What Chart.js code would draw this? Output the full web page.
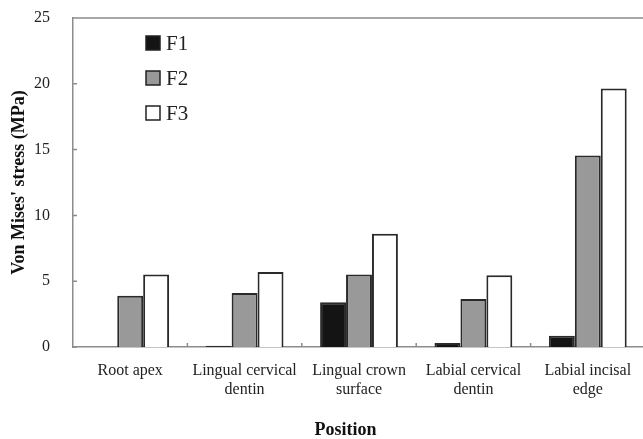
<!DOCTYPE html>
<html>
<head>
<meta charset="utf-8">
<script src="https://cdn.jsdelivr.net/npm/chart.js@4.4.1/dist/chart.umd.min.js"></script>
<style>
  html, body { margin: 0; padding: 0; background: #fff; overflow: hidden; }
  #wrap { position: relative; width: 645px; height: 439px; }
</style>
</head>
<body>
<div id="wrap"><canvas id="stressChart"></canvas></div>
<script>
// positions along the tooth
const positions = [
    'Root apex',
    ['Lingual cervical', 'dentin'],
    ['Lingual crown', 'surface'],
    ['Labial cervical', 'dentin'],
    ['Labial incisal', 'edge']
];
// von Mises stress (MPa) per loading case
const f1 = [0, 0.1, 3.4, 0.3, 0.85];
const f2 = [3.9, 4.1, 5.5, 3.65, 14.55];
const f3 = [5.5, 5.7, 8.6, 5.45, 19.65];
const yTicks = [0, 5, 10, 15, 20, 25];

const axisGray = '#8c8c8c';
const serif = "'Liberation Serif', 'Times New Roman', serif";

// small inward ticks, top frame line and the inset legend
const framePlugin = {
    id: 'frame',
    afterDraw(chart) {
        const ctx = chart.ctx;
        const area = chart.chartArea;
        const x = chart.scales.x, y = chart.scales.y;
        ctx.save();
        ctx.strokeStyle = axisGray;
        ctx.lineWidth = 1.5;
        ctx.beginPath();
        ctx.moveTo(area.left, area.top);
        ctx.lineTo(area.right, area.top);
        yTicks.forEach(v => {
            const py = y.getPixelForValue(v);
            ctx.moveTo(area.left, py);
            ctx.lineTo(area.left + 4, py);
        });
        for (let i = 1; i < positions.length; i++) {
            const px = (x.getPixelForTick(i - 1) + x.getPixelForTick(i)) / 2;
            ctx.moveTo(px, area.bottom);
            ctx.lineTo(px, area.bottom - 4);
        }
        ctx.stroke();

        // legend inside plot
        ctx.font = '21px ' + serif;
        ctx.textBaseline = 'middle';
        chart.data.datasets.forEach((ds, i) => {
            const lx = area.left + 73;
            const ly = area.top + 25 + i * 35;
            ctx.fillStyle = ds.backgroundColor;
            ctx.fillRect(lx, ly - 7, 14, 14);
            ctx.strokeStyle = '#222';
            ctx.lineWidth = 1.5;
            ctx.strokeRect(lx, ly - 7, 14, 14);
            ctx.fillStyle = '#222';
            ctx.fillText(ds.label, lx + 20, ly + 1);
        });
        ctx.restore();
    }
};

const barStyle = { borderColor: '#2a2a2a', borderWidth: 2, barPercentage: 1, categoryPercentage: 0.68 };

new Chart(document.getElementById('stressChart'), {
    type: 'bar',
    data: {
        labels: positions,
        datasets: [
            { label: 'F1', data: f1, backgroundColor: '#141414', ...barStyle },
            { label: 'F2', data: f2, backgroundColor: '#999999', ...barStyle },
            { label: 'F3', data: f3, backgroundColor: '#ffffff', ...barStyle }
        ]
    },
    options: {
        responsive: true,
        maintainAspectRatio: false,
        animation: false,
        layout: { padding: { top: 18, right: 0, left: 0, bottom: 0 } },
        plugins: { legend: { display: false }, tooltip: { enabled: false } },
        scales: {
            x: {
                grid: { display: false, drawTicks: false },
                border: { display: true, color: axisGray, width: 1.5 },
                ticks: { color: '#222', font: { family: serif, size: 16, lineHeight: 1.2 }, padding: 14, maxRotation: 0 },
                title: { display: true, text: 'Position\u00a0\u00a0\u00a0\u00a0\u00a0\u00a0', color: '#111', font: { family: serif, size: 18, weight: 'bold', lineHeight: 1 }, padding: 0 },
                afterFit(scale) {
                    scale.height = 92;
                    scale.paddingLeft = 0;
                    scale.paddingRight = 0;
                }
            },
            y: {
                min: 0,
                max: 25,
                grid: { display: false, drawTicks: false },
                border: { display: true, color: axisGray, width: 1.5 },
                ticks: { stepSize: 5, color: '#222', font: { family: serif, size: 16 }, padding: 23 },
                title: { display: true, text: "Von Mises' stress (MPa)", color: '#111', font: { family: serif, size: 18, weight: 'bold', lineHeight: 1.2 }, padding: { top: 9, bottom: 0 } },
                afterFit(scale) {
                    scale.width = 73;
                    scale.paddingTop = 0;
                    scale.paddingBottom = 0;
                }
            }
        }
    },
    plugins: [framePlugin]
});
</script>
</body>
</html>
